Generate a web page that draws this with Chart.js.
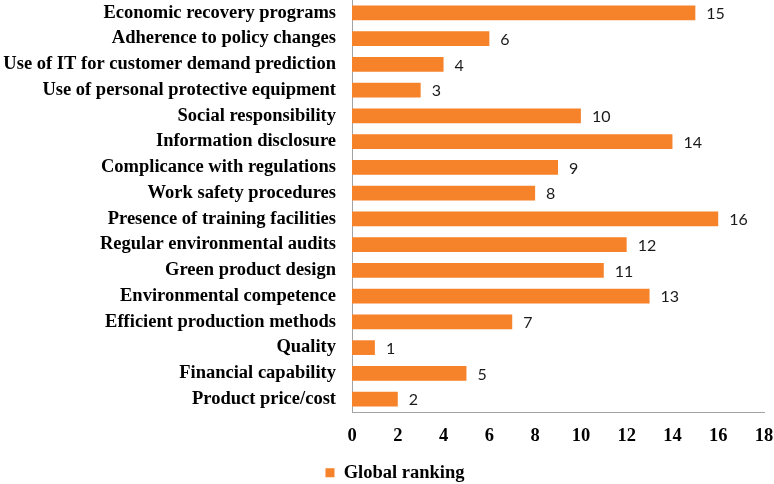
<!DOCTYPE html>
<html>
<head>
<meta charset="utf-8">
<script src="https://cdn.jsdelivr.net/npm/chart.js@4.4.0/dist/chart.umd.min.js"></script>
<style>
  html, body { margin: 0; padding: 0; background: #fff; }
  #wrap { width: 774px; height: 484px; }
</style>
</head>
<body>
<div id="wrap"><canvas id="myChart"></canvas></div>
<script>
const categories = [
    'Economic recovery programs',
    'Adherence to policy changes',
    'Use of IT for customer demand prediction',
    'Use of personal protective equipment',
    'Social responsibility',
    'Information disclosure',
    'Complicance with regulations',
    'Work safety procedures',
    'Presence of training facilities',
    'Regular environmental audits',
    'Green product design',
    'Environmental competence',
    'Efficient production methods',
    'Quality',
    'Financial capability',
    'Product price/cost'
];
const globalRanking = [15, 6, 4, 3, 10, 14, 9, 8, 16, 12, 11, 13, 7, 1, 5, 2];
const xTicks = [0, 2, 4, 6, 8, 10, 12, 14, 16, 18];

const serif = '"Liberation Serif", "Times New Roman", serif';

// value labels just right of each bar
const valueLabels = {
    id: 'valueLabels',
    afterDatasetsDraw(chart) {
        const ctx = chart.ctx;
        const meta = chart.getDatasetMeta(0);
        ctx.save();
        ctx.font = '16px Lato, "Open Sans", sans-serif';
        ctx.fillStyle = '#1a1a1a';
        ctx.textAlign = 'left';
        ctx.textBaseline = 'middle';
        meta.data.forEach((bar, i) => {
            ctx.fillText(String(globalRanking[i]), bar.x + 11, bar.y + 1);
        });
        ctx.restore();
    }
};

// move the legend a little right and down, like the original
const nudgeLegend = {
    id: 'nudgeLegend',
    afterLayout(chart) {
        const lg = chart.legend;
        if (!lg) return;
        lg.left += 13;
        lg.right += 13;
        lg.top += 8;
        lg.bottom += 8;
    }
};

const config = {
    type: 'bar',
    data: {
        labels: categories,
        datasets: [{
            label: 'Global ranking',
            data: globalRanking,
            backgroundColor: '#F6822A',
            borderWidth: 0,
            categoryPercentage: 1,
            barPercentage: 0.57
        }]
    },
    options: {
        indexAxis: 'y',
        responsive: true,
        maintainAspectRatio: false,
        animation: false,
        layout: { padding: { left: 0, right: 10, top: 0, bottom: 0 } },
        scales: {
            x: {
                min: 0,
                max: 18,
                afterBuildTicks(scale) {
                    scale.ticks = xTicks.map(v => ({ value: v }));
                },
                afterFit(scale) {
                    const lg = scale.chart.legend;
                    const lh = lg && lg.height ? lg.height : 26;
                    scale.height = 72 - lh;
                    scale.paddingRight = 0;
                    scale.paddingLeft = 0;
                },
                grid: { display: false, drawTicks: false },
                border: { display: true, color: '#a3a3a3', width: 1 },
                ticks: {
                    padding: 13,
                    color: '#000',
                    font: { family: serif, size: 18.5, weight: 'bold' }
                }
            },
            y: {
                afterFit(scale) {
                    scale.width = 352;
                    scale.paddingTop = 0;
                    scale.paddingBottom = 0;
                },
                grid: { display: false, drawTicks: false },
                border: { display: true, color: '#a3a3a3', width: 1 },
                ticks: {
                    padding: 16,
                    autoSkip: false,
                    color: '#000',
                    font: { family: serif, size: 18.5, weight: 'bold' }
                }
            }
        },
        plugins: {
            legend: {
                position: 'bottom',
                align: 'center',
                labels: {
                    boxWidth: 9,
                    boxHeight: 9,
                    padding: 2,
                    color: '#000',
                    font: { family: serif, size: 18.5, weight: 'bold' }
                }
            },
            tooltip: { enabled: false }
        }
    },
    plugins: [valueLabels, nudgeLegend]
};

const myChart = new Chart(document.getElementById('myChart'), config);
</script>
</body>
</html>
